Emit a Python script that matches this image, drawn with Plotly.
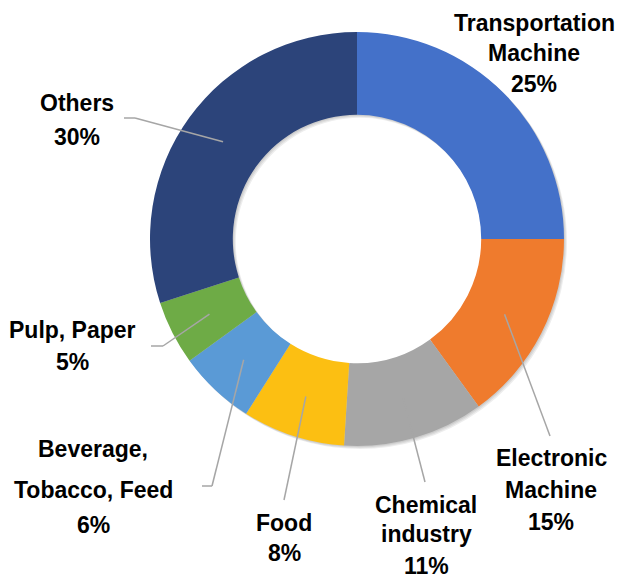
import math
import plotly.graph_objects as go

W, H = 619, 578

# --- data ---
categories = ["Transportation Machine", "Electronic Machine", "Chemical industry", "Food",
              "Beverage, Tobacco, Feed", "Pulp, Paper", "Others"]
shares = [25, 15, 11, 8, 6, 5, 30]
# how each category name is broken over lines in the label
name_lines = [["Transportation", "Machine"], ["Electronic", "Machine"], ["Chemical", "industry"],
              ["Food"], ["Beverage,", "Tobacco, Feed"], ["Pulp, Paper"], ["Others"]]
colors = ["#4471C9", "#EF7B2D", "#A6A6A6", "#FCBF12", "#5A9AD6", "#6EAB46", "#2C447A"]

# --- layout (pixels) ---
CX, CY, R_OUT, HOLE = 357, 239, 207, 0.60
FONT = "Liberation Sans, Arial, sans-serif"
# label centre x and the y of each text line
label_x = [534, 551, 426, 284, 93, 72, 77]
label_ys = [[23, 53, 84], [458, 490, 522], [505, 534, 566], [523, 553],
            [449, 490, 525], [330, 362], [103, 137]]
# leader line path after leaving the slice (None = no leader)
leader_to = [None, [(550, 436)], [(425, 482)], [(284, 500)],
             [(212, 486), (202, 486)], [(163, 346), (151, 346)], [(135, 118), (124, 118)]]


def px(x, y):
    return x / W, 1 - y / H


def ring_domain(dx=0, dy=0):
    return dict(x=[(CX - R_OUT + dx) / W, (CX + R_OUT + dx) / W],
                y=[1 - (CY + R_OUT + dy) / H, 1 - (CY - R_OUT + dy) / H])


fig = go.Figure()
# soft drop shadow: a few faint copies of the ring nudged down-right
for off in (1, 2, 3):
    fig.add_trace(go.Pie(
        values=shares, hole=HOLE, sort=False, direction="clockwise", textinfo="none",
        marker=dict(colors=["rgba(0,0,0,0.07)"] * len(shares), line=dict(width=0)),
        domain=ring_domain(off, off), showlegend=False, hoverinfo="skip",
    ))

fig.add_trace(go.Pie(
    labels=categories, values=shares, hole=HOLE, sort=False,
    direction="clockwise", rotation=0, textinfo="none",
    marker=dict(colors=colors, line=dict(width=0)),
    domain=ring_domain(), showlegend=False,
))

total = sum(shares)
r_mid = R_OUT * (1 + HOLE) / 2
cum = 0
for i, v in enumerate(shares):
    mid = (cum + v / 2) / total * 2 * math.pi
    cum += v
    lines = name_lines[i] + [f"{v}%"]
    for txt, y in zip(lines, label_ys[i]):
        ax, ay = px(label_x[i], y)
        fig.add_annotation(x=ax, y=ay, xref="paper", yref="paper", text=f"<b>{txt}</b>",
                           showarrow=False, xanchor="center", yanchor="middle",
                           font=dict(family=FONT, size=23, color="#000000"))
    if leader_to[i] is None:
        continue
    pts = [(CX + r_mid * math.sin(mid), CY - r_mid * math.cos(mid))] + leader_to[i]
    for (x0, y0), (x1, y1) in zip(pts[:-1], pts[1:]):
        p0, p1 = px(x0, y0), px(x1, y1)
        fig.add_shape(type="line", xref="paper", yref="paper",
                      x0=p0[0], y0=p0[1], x1=p1[0], y1=p1[1],
                      line=dict(color="#A6A6A6", width=1.5))

fig.update_layout(width=W, height=H, margin=dict(l=0, r=0, t=0, b=0),
                  paper_bgcolor="white", plot_bgcolor="white")
# drop the browser's default page margin so the figure sits at the top-left corner
fig.write_html("out.html", config={"displayModeBar": False},
               post_script="document.body.style.margin='0px';")
